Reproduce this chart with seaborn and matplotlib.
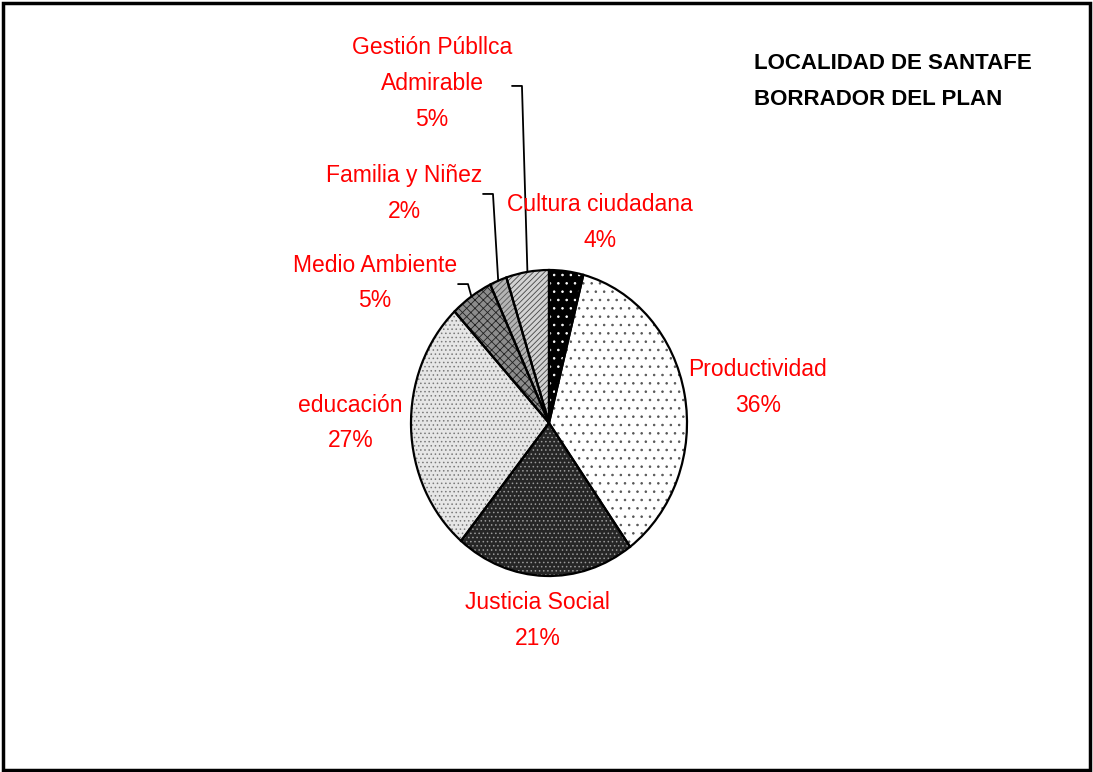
import numpy as np
import matplotlib
matplotlib.use('Agg')
import matplotlib.pyplot as plt
from matplotlib.patches import Rectangle
import seaborn as sns

# data
categorias = ['Cultura ciudadana', 'Productividad', 'Justicia Social', 'educación',
              'Medio Ambiente', 'Familia y Niñez', 'Gestión Públlca\nAdmirable']
porcentajes = [4, 36, 21, 27, 5, 2, 5]
titulo = 'LOCALIDAD DE SANTAFE\nBORRADOR DEL PLAN'

# fills that imitate the Excel pattern fills
caras = ['#000000', '#ffffff', '#262626', '#e6e6e6', '#8c8c8c', '#b4b4b4', '#d2d2d2']
tramas = ['..', '..', '....', '....', 'xxxx', '//////', '//////']
color_trama = ['#ffffff', '#555555', '#9a9a9a', '#7a7a7a', '#222222', '#555555', '#444444']

# label centres and leader elbows (pie units, radius = 1)
pos_etiquetas = [(0.37, 1.31), (1.514, 0.229), (-0.083, -1.291), (-1.438, 0.0),
                 (-1.264, 0.915), (-1.047, 1.5), (-0.848, 2.216)]
codos = {4: (-0.587, 0.908, -0.659), 5: (-0.406, 1.497, -0.478), 6: (-0.196, 2.203, -0.268)}

sns.set_theme(style='white')
plt.rcParams['font.family'] = ['Liberation Sans', 'DejaVu Sans']
plt.rcParams['hatch.linewidth'] = 0.6

fig = plt.figure(figsize=(10.93, 7.72), dpi=100)
ax = fig.add_axes([0, 0, 1, 1])

cuñas, _ = ax.pie(porcentajes, startangle=90, counterclock=False, colors=caras,
                  wedgeprops=dict(linewidth=0))
for w, h, hc in zip(cuñas, tramas, color_trama):
    w.set_hatch(h)
    w.set_edgecolor(hc)
bordes, _ = ax.pie(porcentajes, startangle=90, counterclock=False,
                   wedgeprops=dict(fill=False, edgecolor='black', linewidth=1.6))

# pie drawn slightly taller than wide, like the reference
cx, cy, rx, ry = 549, 423, 138, 153
ax.set_aspect('auto')
ax.set_xlim((0 - cx) / rx, (1093 - cx) / rx)
ax.set_ylim((cy - 772) / ry, (cy - 0) / ry)
ax.axis('off')

for i, (nombre, p) in enumerate(zip(categorias, porcentajes)):
    x, y = pos_etiquetas[i]
    ax.text(x, y, f'{nombre}\n{p}%', color='#ff0000', fontsize=16.5,
            ha='center', va='center', multialignment='center', linespacing=1.72)
    if i in codos:
        w = cuñas[i]
        ang = np.deg2rad((w.theta1 + w.theta2) / 2)
        ex, ey = np.cos(ang), np.sin(ang)
        kx, ky, sx = codos[i]
        ax.plot([sx, kx, ex], [ky, ky, ey], color='black', lw=1.3)

fig.text(754 / 1093, 1 - 81.5 / 772, titulo, fontsize=16, fontweight='bold',
         ha='left', va='center', linespacing=1.95, color='black')

fig.patches.append(Rectangle((3 / 1093, 2 / 772), 1087 / 1093, 767 / 772,
                             transform=fig.transFigure, fill=False,
                             edgecolor='black', linewidth=2.5))

fig.savefig('out.png', dpi=100)
